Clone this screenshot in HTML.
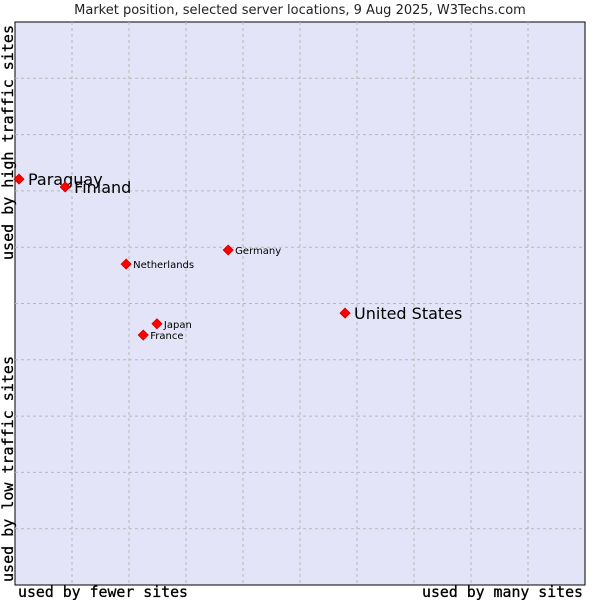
<!DOCTYPE html>
<html><head><meta charset="utf-8"><style>
body{margin:0;background:#fff;width:600px;height:600px;overflow:hidden}
svg{display:block}
</style></head><body>
<svg width="600" height="600" xmlns="http://www.w3.org/2000/svg">
<text x="300" y="14" text-anchor="middle" font-family="DejaVu Sans, sans-serif" font-size="13" fill="#222">Market position, selected server locations, 9 Aug 2025, W3Techs.com</text>
<rect x="15" y="22" width="570" height="563" fill="#e4e4f8" stroke="#000" stroke-width="1"/>
<g id="grid"></g>
<g id="points"></g>
<text x="18" y="597" textLength="170" lengthAdjust="spacingAndGlyphs" font-family="DejaVu Sans Mono, monospace" font-size="15" fill="#000" stroke="#000" stroke-width="0.3">used by fewer sites</text>
<text x="422" y="597" textLength="161" lengthAdjust="spacingAndGlyphs" font-family="DejaVu Sans Mono, monospace" font-size="15" fill="#000" stroke="#000" stroke-width="0.3">used by many sites</text>
<text transform="translate(13,260) rotate(-90)" textLength="235" lengthAdjust="spacingAndGlyphs" font-family="DejaVu Sans Mono, monospace" font-size="15" fill="#000" stroke="#000" stroke-width="0.3">used by high traffic sites</text>
<text transform="translate(13,582) rotate(-90)" textLength="226" lengthAdjust="spacingAndGlyphs" font-family="DejaVu Sans Mono, monospace" font-size="15" fill="#000" stroke="#000" stroke-width="0.3">used by low traffic sites</text>
</svg>
<script>
const names=["Paraguay","Finland","Netherlands","Germany","United States","Japan","France"];
const xVals=[0.07,0.88,1.95,3.74,5.79,2.49,2.25];
const yVals=[7.21,7.07,5.70,5.95,4.83,4.64,4.44];
const large=[true,true,false,false,true,false,false];
const L=15,T=22,W=570,H=563;
const sx=v=>L+v/10*W, sy=v=>T+H-v/10*H;
const NS="http://www.w3.org/2000/svg";
const g=document.getElementById('grid');
for(let i=1;i<10;i++){
 const v=document.createElementNS(NS,'line');
 
 
 v.setAttribute('x1',sx(i));v.setAttribute('x2',sx(i));v.setAttribute('y1',T);v.setAttribute('y2',T+H);
 v.setAttribute('stroke','#b8b8b8');v.setAttribute('stroke-dasharray','3,3');g.appendChild(v);
 const h=document.createElementNS(NS,'line');
 
 
 h.setAttribute('y1',sy(i));h.setAttribute('y2',sy(i));h.setAttribute('x1',L);h.setAttribute('x2',L+W);
 h.setAttribute('stroke','#b8b8b8');h.setAttribute('stroke-dasharray','3,3');g.appendChild(h);
}
const p=document.getElementById('points');
names.forEach((n,i)=>{
 const x=sx(xVals[i]),y=sy(yVals[i]);
 const c=document.createElementNS(NS,'path');
 
 
 c.setAttribute('d',`M${x} ${y-5}L${x+5} ${y}L${x} ${y+5}L${x-5} ${y}Z`);
 c.setAttribute('fill','#f00');c.setAttribute('stroke','#c00');c.setAttribute('stroke-width','0.8');
 p.appendChild(c);
 const t=document.createElementNS(NS,'text');
 
 
 t.setAttribute('x',x+(large[i]?9:7));t.setAttribute('y',y+(large[i]?6:4));
 t.setAttribute('font-family','DejaVu Sans, sans-serif');t.setAttribute('font-size',large[i]?16:10);
 t.setAttribute('fill','#000');t.textContent=n;p.appendChild(t);
});
</script>
</body></html>
